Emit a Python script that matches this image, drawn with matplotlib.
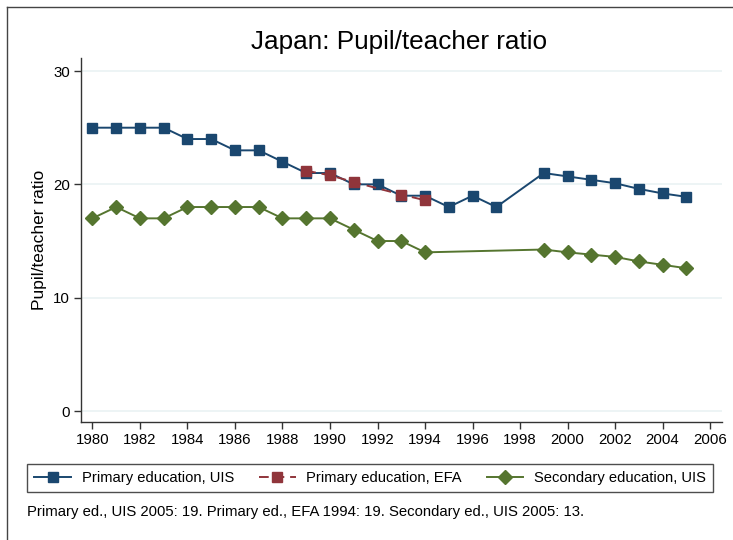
import matplotlib
matplotlib.use("Agg")
import matplotlib.pyplot as plt
from matplotlib.lines import Line2D

plt.rcParams['font.family'] = ['Liberation Sans', 'DejaVu Sans']

# Data
years_uis = [1980, 1981, 1982, 1983, 1984, 1985, 1986, 1987, 1988, 1989, 1990,
             1991, 1992, 1993, 1994, 1995, 1996, 1997, 1999, 2000, 2001, 2002,
             2003, 2004, 2005]
primary_uis = [25, 25, 25, 25, 24, 24, 23, 23, 22, 21, 21,
               20, 20, 19, 19, 18, 19, 18, 21.0, 20.7, 20.4, 20.1,
               19.6, 19.2, 18.9]

years_efa = [1989, 1990, 1991, 1993, 1994]
primary_efa = [21.2, 20.8, 20.2, 19.1, 18.6]

years_sec = [1980, 1981, 1982, 1983, 1984, 1985, 1986, 1987, 1988, 1989, 1990,
             1991, 1992, 1993, 1994, 1999, 2000, 2001, 2002, 2003, 2004, 2005]
secondary_uis = [17, 18, 17, 17, 18, 18, 18, 18, 17, 17, 17,
                 16, 15, 15, 14, 14.25, 14.0, 13.8, 13.6, 13.2, 12.9, 12.6]

xticks = list(range(1980, 2007, 2))
yticks = [0, 10, 20, 30]

blue = '#1a476f'
red = '#90353b'
green = '#55752f'

fig = plt.figure(figsize=(7.33, 5.4), dpi=100)
ax = fig.add_axes([81 / 733, 1 - 422 / 540, 641 / 733, 364 / 540])

ax.plot(years_uis, primary_uis, color=blue, lw=1.4, marker='s', ms=7,
        mec=blue, mfc=blue, label='Primary education, UIS', zorder=3)
ax.plot(years_efa, primary_efa, color=red, lw=1.4, ls=(0, (5, 3)), marker='s', ms=7,
        mec=red, mfc=red, label='Primary education, EFA', zorder=4)
ax.plot(years_sec, secondary_uis, color=green, lw=1.4, marker='D', ms=7,
        mec=green, mfc=green, label='Secondary education, UIS', zorder=3)

ax.set_xlim(1979.52, 2006.5)
ax.set_ylim(-0.97, 31.15)
ax.set_xticks(xticks)
ax.set_yticks(yticks)
ax.grid(axis='y', color='#eaf2f3', lw=1.2, zorder=0)
ax.set_axisbelow(True)

for side in ['top', 'right']:
    ax.spines[side].set_visible(False)
for side in ['left', 'bottom']:
    ax.spines[side].set_color('#333333')
    ax.spines[side].set_linewidth(1.0)
ax.tick_params(direction='out', length=5, width=1, color='#333333',
               labelsize=10.8, pad=3)

ax.set_ylabel('Pupil/teacher ratio', fontsize=12.5, labelpad=4)
fig.text(0.545, 1 - 42 / 540, 'Japan: Pupil/teacher ratio', ha='center',
         va='center', fontsize=18.8)

leg = fig.legend(loc='center', bbox_to_anchor=(370 / 733, 1 - 478 / 540), ncol=3,
                 fontsize=10.6, frameon=True, fancybox=False, edgecolor='#222222',
                 handlelength=2.5, columnspacing=1.7, borderpad=0.5,
                 handletextpad=0.7, borderaxespad=0)
leg.get_frame().set_linewidth(1.0)

fig.text(27 / 733, 1 - 512 / 540,
         'Primary ed., UIS 2005: 19. Primary ed., EFA 1994: 19. Secondary ed., UIS 2005: 13.',
         ha='left', va='center', fontsize=10.7)

# outer frame edges visible at left and top
fig.add_artist(Line2D([7 / 733, 7 / 733], [0, 1 - 7 / 540], color='#444444', lw=1.0))
fig.add_artist(Line2D([7 / 733, 1], [1 - 7 / 540, 1 - 7 / 540], color='#444444', lw=1.0))

fig.savefig('out.png', dpi=100)
